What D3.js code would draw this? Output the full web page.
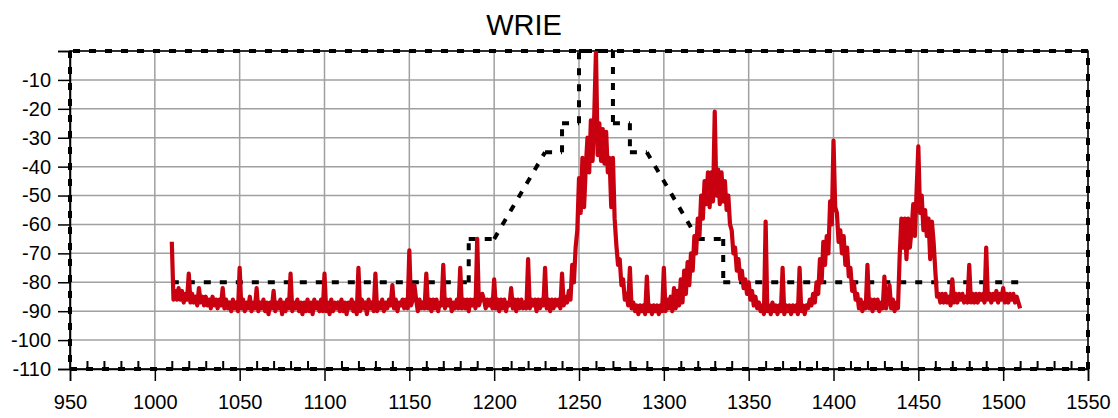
<!DOCTYPE html>
<html>
<head>
<meta charset="utf-8">
<script src="https://cdn.jsdelivr.net/npm/d3@7"></script>
<style>
  body { margin: 0; background: #fff; }
  svg { display: block; font-family: "Liberation Sans", Arial, sans-serif; }
</style>
</head>
<body>
<div id="chart"></div>
<script>
// chart values
const chartTitle = "WRIE";
const xTicks = [950, 1000, 1050, 1100, 1150, 1200, 1250, 1300, 1350, 1400, 1450, 1500, 1550];
const yTicks = [0, -10, -20, -30, -40, -50, -60, -70, -80, -90, -100, -110];

// spectrum trace, one value per MHz from 1010 to 1510 (dBm)
const traceStart = 1010;
const traceLevels = [
  -66, -86, -83, -86, -82, -86, -83, -87, -84, -86,   // 1010
  -77, -87, -84, -87, -85, -88, -82, -87, -85, -88,   // 1020
  -85, -88, -86, -89, -85, -88, -86, -89, -86, -88,   // 1030
  -82, -89, -86, -89, -87, -90, -86, -89, -87, -90,   // 1040
  -75, -89, -86, -90, -87, -89, -85, -90, -87, -89,   // 1050
  -82, -90, -87, -89, -86, -90, -87, -91, -87, -89,   // 1060
  -83, -90, -87, -89, -86, -91, -87, -90, -86, -89,   // 1070
  -77, -90, -87, -89, -86, -90, -87, -91, -87, -90,   // 1080
  -86, -90, -87, -91, -86, -89, -87, -90, -86, -90,   // 1090
  -77, -90, -87, -91, -86, -90, -87, -89, -87, -90,   // 1100
  -86, -90, -87, -91, -87, -89, -86, -90, -87, -91,   // 1110
  -75, -90, -86, -89, -87, -91, -86, -89, -87, -90,   // 1120
  -77, -90, -87, -89, -86, -90, -87, -89, -86, -88,   // 1130
  -81, -89, -86, -90, -87, -88, -86, -89, -86, -89,   // 1140
  -69, -88, -86, -81, -86, -90, -86, -89, -87, -89,   // 1150
  -77, -89, -86, -90, -86, -89, -86, -90, -87, -88,   // 1160
  -74, -89, -86, -88, -86, -90, -87, -89, -86, -89,   // 1170
  -75, -89, -86, -89, -86, -90, -86, -88, -86, -89,   // 1180
  -65, -88, -86, -84, -86, -89, -86, -88, -86, -89,   // 1190
  -79, -89, -86, -90, -86, -89, -86, -90, -87, -88,   // 1200
  -82, -89, -86, -90, -86, -89, -86, -89, -87, -89,   // 1210
  -72, -89, -86, -88, -86, -90, -86, -89, -86, -88,   // 1220
  -75, -89, -86, -90, -86, -89, -86, -88, -86, -89,   // 1230
  -77, -88, -85, -87, -83, -86, -74, -80, -68, -62,   // 1240
  -44, -56, -37, -54, -40, -30, -42, -24, -38, -22,   // 1250
    0, -36, -25, -38, -27, -39, -28, -42, -37, -54,   // 1260
  -37, -58, -67, -74, -72, -81, -79, -86, -84, -88,   // 1270
  -75, -89, -87, -90, -88, -91, -88, -90, -88, -91,   // 1280
  -78, -90, -88, -91, -88, -90, -88, -91, -88, -90,   // 1290
  -75, -90, -86, -89, -85, -90, -82, -89, -83, -88,   // 1300
  -79, -87, -76, -84, -73, -81, -70, -76, -64, -70,   // 1310
  -58, -64, -50, -58, -45, -53, -42, -54, -42, -52,   // 1320
  -21, -50, -41, -53, -42, -52, -45, -55, -50, -60,   // 1330
  -62, -70, -68, -76, -72, -79, -76, -82, -79, -84,   // 1340
  -80, -86, -83, -88, -85, -89, -87, -90, -88, -91,   // 1350
  -59, -90, -88, -91, -87, -90, -88, -91, -88, -90,   // 1360
  -75, -91, -88, -90, -88, -91, -88, -90, -88, -91,   // 1370
  -75, -90, -88, -91, -88, -89, -86, -88, -84, -87,   // 1380
  -80, -84, -72, -80, -66, -74, -64, -70, -52, -60,   // 1390
  -31, -54, -56, -66, -62, -70, -64, -74, -68, -78,   // 1400
  -75, -83, -80, -86, -84, -89, -86, -90, -87, -89,   // 1410
  -74, -89, -86, -90, -86, -89, -86, -90, -87, -89,   // 1420
  -78, -89, -86, -81, -89, -86, -90, -87, -89, -71,   // 1430
  -58, -68, -58, -72, -58, -68, -62, -53, -64, -48,   // 1440
  -33, -56, -50, -62, -55, -64, -58, -72, -59, -66,   // 1450
  -76, -85, -84, -87, -84, -87, -84, -87, -85, -88,   // 1460
  -79, -87, -84, -87, -84, -86, -84, -87, -85, -87,   // 1470
  -74, -87, -84, -87, -84, -87, -84, -86, -84, -87,   // 1480
  -68, -86, -84, -87, -84, -86, -83, -87, -84, -86,   // 1490
  -82, -87, -84, -87, -84, -86, -84, -87, -85, -87,   // 1500
  -89                                                 // 1510
];

// emission mask corners (MHz, dBm)
const maskOuterFreq  = [1550, 950, 950, 1550, 1550];
const maskOuterLevel = [0, 0, -110, -110, 0];
const maskInnerFreq  = [1010, 1185, 1185, 1200, 1230, 1240, 1240, 1250, 1250,
                        1270, 1270, 1280, 1280, 1290, 1320, 1335, 1335, 1510];
const maskInnerLevel = [-80, -80, -65, -65, -35, -35, -25, -25, 0,
                        0, -25, -25, -35, -35, -65, -65, -80, -80];

const width = 1118, height = 418;
const margin = {top: 51, right: 30, bottom: 49, left: 70};
const plotW = width - margin.left - margin.right;
const plotH = height - margin.top - margin.bottom;

const svg = d3.select("#chart").append("svg")
    .attr("width", width)
    .attr("height", height);

const g = svg.append("g")
    .attr("transform", `translate(${margin.left}, ${margin.top})`);

const x = d3.scaleLinear().domain([950, 1550]).range([0, plotW]);
const y = d3.scaleLinear().domain([-110, 0]).range([plotH, 0]);

// grid
g.append("g").selectAll("line").data(xTicks).join("line")
    .attr("x1", d => x(d)).attr("x2", d => x(d))
    .attr("y1", 0).attr("y2", plotH)
    .attr("stroke", "#a0a0a0").attr("stroke-width", 1.5);
g.append("g").selectAll("line").data(yTicks).join("line")
    .attr("x1", 0).attr("x2", plotW)
    .attr("y1", d => y(d)).attr("y2", d => y(d))
    .attr("stroke", "#a0a0a0").attr("stroke-width", 1.5);

// frame
g.append("rect")
    .attr("width", plotW).attr("height", plotH)
    .attr("fill", "none").attr("stroke", "#000").attr("stroke-width", 1.5);

// mask lines, drawn segment by segment so short steps keep a dash
function maskSegments(freqs, levels) {
  const segs = [];
  for (let i = 1; i < freqs.length; i++) {
    segs.push([[freqs[i - 1], levels[i - 1]], [freqs[i], levels[i]]]);
  }
  return segs;
}
const maskLine = d3.line().x(d => x(d[0])).y(d => y(d[1]));
const segs = maskSegments(maskOuterFreq, maskOuterLevel)
    .concat(maskSegments(maskInnerFreq, maskInnerLevel));
g.append("g").selectAll("path").data(segs).join("path")
    .attr("d", d => maskLine(d))
    .attr("fill", "none")
    .attr("stroke", "#000")
    .attr("stroke-width", 4)
    .attr("stroke-dasharray", "7,9");

// spectrum trace
svg.append("clipPath").attr("id", "plotclip")
  .append("rect").attr("width", plotW).attr("height", plotH);

const trace = traceLevels.map((v, i) => [traceStart + i, v]);
g.append("path")
    .attr("clip-path", "url(#plotclip)")
    .attr("d", d3.line().x(d => x(d[0])).y(d => y(d[1]))(trace))
    .attr("fill", "none")
    .attr("stroke", "#c8000f")
    .attr("stroke-width", 4.2)
    .attr("stroke-linejoin", "round");

// axes
const xAxis = g.append("g")
    .attr("transform", `translate(0, ${plotH})`)
    .call(d3.axisBottom(x).tickValues(xTicks).tickSize(12).tickPadding(14).tickFormat(d => String(d)));
const minorTicks = d3.range(960, 1550, 10).filter(d => d % 50 !== 0);
g.append("g")
    .attr("transform", `translate(0, ${plotH})`)
    .call(d3.axisBottom(x).tickValues(minorTicks).tickSize(-8).tickFormat(""))
    .call(a => a.selectAll("line").attr("stroke-width", 2))
    .call(a => a.select(".domain").remove());

const yAxis = g.append("g")
    .call(d3.axisLeft(y).tickValues(yTicks).tickSize(12).tickPadding(7)
      .tickFormat(d => d === 0 ? "" : String(d)));

[xAxis, yAxis].forEach(a => {
  a.selectAll("text").attr("font-size", 20).attr("fill", "#000")
      .attr("font-family", "Liberation Sans, Arial, sans-serif");
  a.selectAll("line").attr("stroke", "#000").attr("stroke-width", 1.5);
  a.select(".domain").attr("stroke", "#000").attr("stroke-width", 1.5);
});

// title
svg.append("text")
    .attr("x", 524)
    .attr("y", 35)
    .attr("text-anchor", "middle")
    .attr("font-size", 29)
    .text(chartTitle);
</script>
</body>
</html>
